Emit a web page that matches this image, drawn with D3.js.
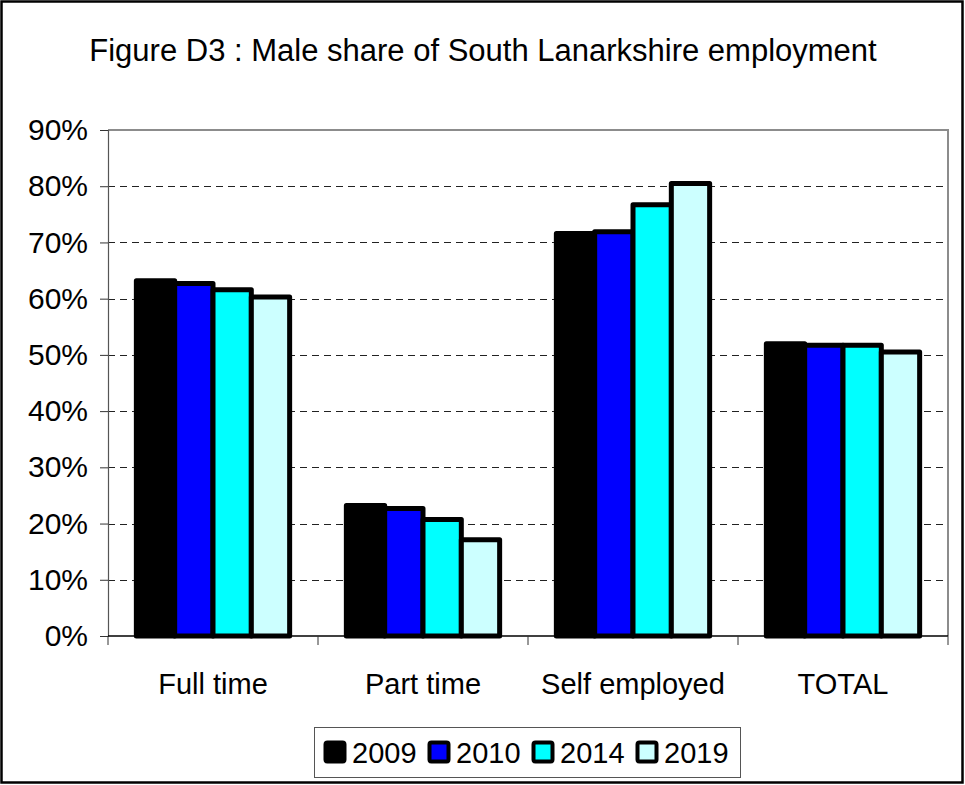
<!DOCTYPE html>
<html>
<head>
<meta charset="utf-8">
<script src="https://cdn.jsdelivr.net/npm/d3@7"></script>
<style>
  body { margin: 0; background: #fff; }
  svg { display: block; font-family: "Liberation Sans", Arial, sans-serif; }
</style>
</head>
<body>
<svg id="chart" width="965" height="785"></svg>
<script>
const title = "Figure D3 : Male share of South Lanarkshire employment";
const categories = ["Full time", "Part time", "Self employed", "TOTAL"];
const years = ["2009", "2010", "2014", "2019"];
const colors = ["#000000", "#0000FF", "#00FFFF", "#CCFFFF"];
const values2009 = [0.632, 0.232, 0.716, 0.520];
const values2010 = [0.627, 0.227, 0.719, 0.517];
const values2014 = [0.616, 0.207, 0.767, 0.517];
const values2019 = [0.603, 0.171, 0.805, 0.505];
const yTicks = [0, 0.1, 0.2, 0.3, 0.4, 0.5, 0.6, 0.7, 0.8, 0.9];

const seriesValues = [values2009, values2010, values2014, values2019];

const svg = d3.select("#chart");
const W = 965, H = 785;
const pLeft = 108, pRight = 948, pTop = 130, pBottom = 636;

// outer border
svg.append("rect").attr("x", 1.5).attr("y", 1.5).attr("width", W - 4).attr("height", H - 4)
  .attr("fill", "#fff").attr("stroke", "#000").attr("stroke-width", 2.5);

// title
svg.append("text").attr("x", 483).attr("y", 61).attr("text-anchor", "middle")
  .attr("font-size", 31).attr("fill", "#000").text(title);

const x0 = d3.scaleBand().domain(categories).range([pLeft, pRight]).paddingInner(0).paddingOuter(0);
const x1 = d3.scaleBand().domain(years).range([0, x0.bandwidth()]).paddingInner(0).paddingOuter(0.74);
const y = d3.scaleLinear().domain([0, 0.9]).range([pBottom, pTop]);

// gridlines
svg.append("g").selectAll("line").data(yTicks.filter(t => t > 0 && t < 0.9)).join("line")
  .attr("x1", pLeft).attr("x2", pRight)
  .attr("y1", d => Math.round(y(d)) + 0.5).attr("y2", d => Math.round(y(d)) + 0.5)
  .attr("stroke", "#222").attr("stroke-width", 1).attr("stroke-dasharray", "7,5");

// plot area border (top/right)
svg.append("path")
  .attr("d", `M${pLeft},${pTop}H${pRight}V${pBottom}`)
  .attr("fill", "none").attr("stroke", "#8c8c8c").attr("stroke-width", 2);

// bars
const groups = svg.append("g").selectAll("g").data(categories).join("g")
  .attr("transform", d => `translate(${x0(d)},0)`);
groups.each(function(cat, ci) {
  d3.select(this).selectAll("rect").data(years).join("rect")
    .attr("x", d => x1(d))
    .attr("width", x1.bandwidth())
    .attr("y", (d, si) => y(seriesValues[si][ci]))
    .attr("height", (d, si) => y(0) - y(seriesValues[si][ci]))
    .attr("fill", (d, si) => colors[si])
    .attr("stroke", "#000").attr("stroke-width", 5).attr("stroke-linejoin", "round");
});

// y axis
const yAxis = d3.axisLeft(y).tickValues(yTicks).tickFormat(d3.format(".0%")).tickSize(8).tickPadding(12);
const gy = svg.append("g").attr("transform", `translate(${pLeft},0)`).call(yAxis);
gy.select(".domain").attr("stroke", "#555").attr("stroke-width", 1.2);
gy.selectAll(".tick line").attr("stroke", "#333");
gy.selectAll(".tick text").attr("font-size", 30).attr("fill", "#000")
  .attr("font-family", "Liberation Sans, Arial, sans-serif");

// x axis
const xAxis = d3.axisBottom(x0).tickSize(0).tickPadding(0);
const gx = svg.append("g").attr("transform", `translate(0,${pBottom})`).call(xAxis);
gx.select(".domain").remove();
gx.append("line").attr("x1", pLeft).attr("x2", pRight).attr("y1", 0).attr("y2", 0)
  .attr("stroke", "#000").attr("stroke-width", 1.5);
gx.selectAll(".sep").data(d3.range(categories.length + 1)).join("line")
  .attr("class", "sep")
  .attr("x1", i => pLeft + i * x0.step()).attr("x2", i => pLeft + i * x0.step())
  .attr("y1", 0).attr("y2", 9).attr("stroke", "#333");
gx.selectAll(".tick text").attr("font-size", 29).attr("fill", "#000")
  .attr("font-family", "Liberation Sans, Arial, sans-serif")
  .attr("dy", null).attr("y", 58);

// legend
const lg = svg.append("g");
lg.append("rect").attr("x", 314.5).attr("y", 727.5).attr("width", 426).attr("height", 50)
  .attr("fill", "#fff").attr("stroke", "#555").attr("stroke-width", 1);
const items = lg.selectAll("g.item").data(years).join("g").attr("class", "item")
  .attr("transform", (d, i) => `translate(${324 + i * 104},0)`);
items.append("rect").attr("x", 1.5).attr("y", 742.5).attr("width", 19).attr("height", 19)
  .attr("rx", 2).attr("fill", (d, i) => colors[i]).attr("stroke", "#000").attr("stroke-width", 4)
  .attr("stroke-linejoin", "round");
items.append("text").attr("x", 28).attr("y", 763).attr("font-size", 29).attr("fill", "#000")
  .text(d => d);
</script>
</body>
</html>
